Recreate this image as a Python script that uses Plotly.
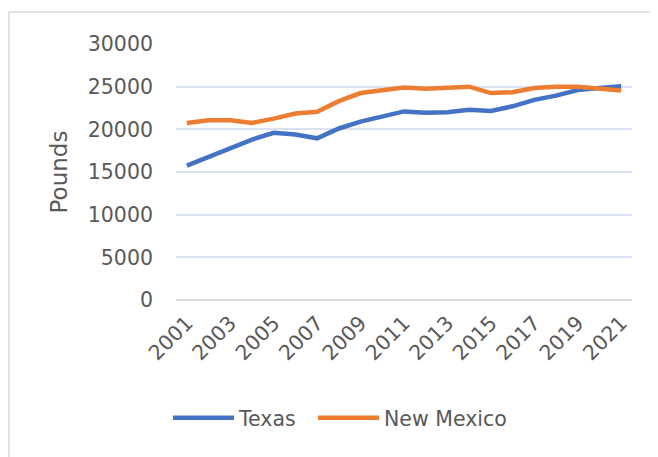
import plotly.graph_objects as go

years = list(range(2001, 2022))
texas = [15750, 16750, 17750, 18800, 19600, 19400, 18950, 20100, 20900, 21450, 22100,
         21950, 22000, 22300, 22150, 22700, 23450, 23950, 24600, 24850, 25050]
new_mexico = [20750, 21050, 21050, 20750, 21250, 21850, 22050, 23300, 24250, 24600, 24900,
              24750, 24850, 25000, 24250, 24350, 24850, 25000, 25000, 24750, 24550]
tick_years = [str(y) for y in range(2001, 2022, 2)]
y_ticks = [0, 5000, 10000, 15000, 20000, 25000, 30000]

# page has an 8px body margin: work in figure coords = page coords - 8
OFF = 8
W, H = 658 - OFF, 457 - OFF
ML, MR, MT, MB = 176 - OFF, 26, 44 - OFF, 157
PW, PH = W - ML - MR, H - MT - MB

FONT = "DejaVu Sans"
GRAY = "#595959"
TICK_SIZE = 20.5

fig = go.Figure()
fig.add_trace(go.Scatter(x=[str(y) for y in years], y=texas, mode="lines", name="Texas",
                         line=dict(color="#4472C4", width=4.5), legend="legend"))
fig.add_trace(go.Scatter(x=[str(y) for y in years], y=new_mexico, mode="lines", name="New Mexico",
                         line=dict(color="#ED7D31", width=4.5), legend="legend2"))

def px_x(p):  # page px -> paper
    return (p - OFF - ML) / PW

def px_y(p):
    return (H - MB - (p - OFF)) / PH

# outer chart border (left and top edges visible)
fig.add_shape(type="line", xref="paper", yref="paper", x0=px_x(9), x1=px_x(9),
              y0=px_y(12), y1=px_y(470), line=dict(color="#d9d9d9", width=1.5))
fig.add_shape(type="line", xref="paper", yref="paper", x0=px_x(9), x1=px_x(670),
              y0=px_y(12), y1=px_y(12), line=dict(color="#d9d9d9", width=1.5))

legend_common = dict(orientation="h", xanchor="left", yanchor="middle",
                     font=dict(family=FONT, size=TICK_SIZE, color=GRAY), itemwidth=61,
                     bgcolor="rgba(0,0,0,0)")

fig.update_layout(
    width=W, height=H,
    margin=dict(l=ML, r=MR, t=MT, b=MB, pad=0, autoexpand=False),
    paper_bgcolor="white", plot_bgcolor="white",
    font=dict(family=FONT, size=TICK_SIZE, color=GRAY),
    showlegend=True,
    legend=dict(x=px_x(168), y=px_y(418), **legend_common),
    legend2=dict(x=px_x(313), y=px_y(418), **legend_common),
    xaxis=dict(type="category", tickmode="array", tickvals=tick_years, ticktext=tick_years,
               tickangle=-45, showgrid=False, showline=False, zeroline=False,
               ticks="", ticklabelstandoff=6, range=[-0.5, 20.5],
               tickfont=dict(family=FONT, size=TICK_SIZE, color=GRAY)),
    yaxis=dict(range=[0, 30000], tickmode="array", tickvals=y_ticks,
               ticktext=[str(v) for v in y_ticks], showgrid=True, gridcolor="#d9e2f3",
               gridwidth=1.5, zeroline=True, zerolinecolor="#d9d9d9", zerolinewidth=1.5,
               showline=False, ticks="", ticklabelstandoff=22,
               tickfont=dict(family=FONT, size=TICK_SIZE, color=GRAY),
               title=dict(text="Pounds", font=dict(family=FONT, size=23, color=GRAY), standoff=13)),
)

fig.write_html("out.html")
